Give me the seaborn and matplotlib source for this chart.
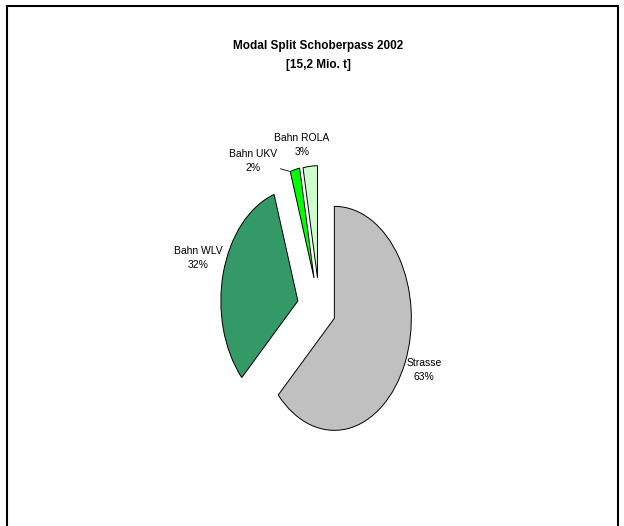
import matplotlib
matplotlib.use("Agg")
import matplotlib.pyplot as plt
import seaborn as sns
import numpy as np
from matplotlib.patches import Rectangle

# ---- data ----
categories = ["Strasse", "Bahn WLV", "Bahn UKV", "Bahn ROLA"]
shares = [63, 32, 2, 3]
pct_labels = ["63%", "32%", "2%", "3%"]
colors = ["#C0C0C0", "#339966", "#00FF00", "#CCFFCC"]
explode = [0.21, 0.29, 0.285, 0.28]
title_lines = ["Modal Split Schoberpass 2002", "[15,2 Mio. t]"]

sns.set_theme(style="white")
plt.rcParams["font.family"] = ["Liberation Sans Narrow", "Liberation Sans", "DejaVu Sans"]
plt.rcParams["text.color"] = "black"

W, H = 624, 526
fig = plt.figure(figsize=(W / 100, H / 100), dpi=100)
fig.patch.set_facecolor("white")
ax = fig.add_axes([0, 0, 1, 1])

wedges, _ = ax.pie(shares, colors=colors, explode=explode, startangle=90,
                   counterclock=False,
                   wedgeprops=dict(edgecolor="black", linewidth=0.7))

# elliptical appearance: 77 px per unit horizontally, 112 px vertically
cx, cy = 319.5, 309.0
sx, sy = 77.0, 112.0
ax.set_aspect("auto")
ax.set_xlim((0 - cx) / sx, (W - cx) / sx)
ax.set_ylim((cy - H) / sy, (cy - 0) / sy)
ax.axis("off")

def fx(px):
    return px / W

def fy(py):
    return 1 - py / H

# title
fig.text(fx(318), fy(55.5), "\n".join(title_lines), ha="center", va="center",
         fontsize=8.5, fontweight="bold", linespacing=1.75, color="black")

# labels (positions of text boxes in pixels)
label_pos = {"Strasse": (424, 370), "Bahn WLV": (198, 258),
             "Bahn UKV": (253, 161), "Bahn ROLA": (302, 145)}
for cat, pct, w in zip(categories, pct_labels, wedges):
    x, y = label_pos[cat]
    txt = f"{cat}\n{pct}"
    if cat == "Bahn UKV":
        th = np.deg2rad(w.theta2)
        tip = (w.center[0] + w.r * np.cos(th), w.center[1] + w.r * np.sin(th))
        ax.annotate(txt, xy=tip, xycoords="data",
                    xytext=(fx(x), fy(y)), textcoords="figure fraction",
                    ha="center", va="center", fontsize=7.5, linespacing=1.55,
                    color="black",
                    arrowprops=dict(arrowstyle="-", color="black", lw=0.6,
                                    shrinkA=8, shrinkB=0,
                                    connectionstyle="arc3,rad=0"))
    else:
        fig.text(fx(x), fy(y), txt, ha="center", va="center",
                 fontsize=7.5, linespacing=1.55, color="black")

# outer frame
fig.patches.append(Rectangle((7 / W, -0.01), (618 - 7) / W, 1 - 6 / H + 0.01,
                             transform=fig.transFigure, fill=False,
                             edgecolor="black", linewidth=1.5))

fig.savefig("out.png", dpi=100, facecolor="white")
